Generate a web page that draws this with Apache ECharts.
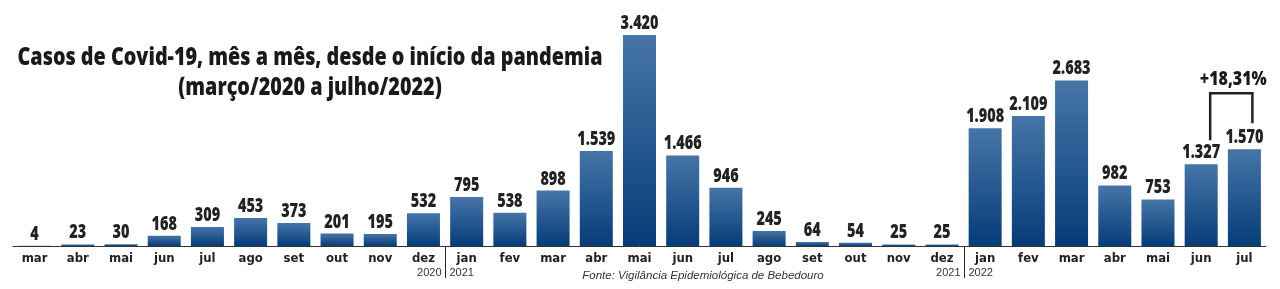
<!DOCTYPE html>
<html><head><meta charset="utf-8">
<script src="https://cdn.jsdelivr.net/npm/echarts@6/dist/echarts.min.js"></script>
<style>html,body{margin:0;padding:0;background:#fff}#c{width:1280px;height:289px}</style>
</head><body><div id="c"></div>
<script>
const months = ['mar','abr','mai','jun','jul','ago','set','out','nov','dez',
  'jan','fev','mar','abr','mai','jun','jul','ago','set','out','nov','dez',
  'jan','fev','mar','abr','mai','jun','jul'];
const cases = [4,23,30,168,309,453,373,201,195,532,
  795,538,898,1539,3420,1466,946,245,64,54,25,25,
  1908,2109,2683,982,753,1327,1570];
const yearBreaks = [{before:10, left:'2020', right:'2021'},{before:22, left:'2021', right:'2022'}];
const titleLines = ['Casos de Covid-19, mês a mês, desde o início da pandemia','(março/2020 a julho/2022)'];
const sourceText = 'Fonte: Vigilância Epidemiológica de Bebedouro';
const changeLabel = '+18,31%';

const BOLD = '"Open Sans","DejaVu Sans",sans-serif';
const COND = '"DejaVu Sans Condensed","DejaVu Sans",sans-serif';
const SANS = '"Liberation Sans","DejaVu Sans",sans-serif';
const fmt = v => v >= 1000 ? Math.floor(v/1000) + '.' + String(v%1000).padStart(3,'0') : String(v);
const cats = months.map((m,i)=>i+'_'+m);

function measure(text, font){const c=document.createElement('canvas').getContext('2d');c.font=font;return c.measureText(text).width;}

const chart = echarts.init(document.getElementById('c'));
chart.setOption({
  animation:false,
  grid:{left:13,right:14,top:35,bottom:43},
  xAxis:{type:'category',data:cats,
    axisLine:{lineStyle:{color:'#333',width:1}},
    axisTick:{show:false},
    axisLabel:{formatter:v=>v.split('_')[1],color:'#222',fontWeight:'bold',fontSize:13,fontFamily:COND,margin:6}},
  yAxis:{type:'value',min:0,max:3420,show:false,splitLine:{show:false}},
  series:[{type:'bar',data:cases,barWidth:33,
    itemStyle:{color:new echarts.graphic.LinearGradient(0,0,0,1,[{offset:0,color:'#4676a8'},{offset:1,color:'#053c78'}])}
  },{type:'custom',data:cases.map((v,i)=>[i,v]),encode:{x:0,y:1},z:10,
    renderItem:(params,api)=>{
      const p = api.coord([api.value(0),api.value(1)]);
      return {type:'text',x:p[0],y:p[1]-2,scaleX:0.76,
        style:{text:fmt(api.value(1)),align:'center',verticalAlign:'bottom',fill:'#222',font:'800 19px '+BOLD}};
    }}]
});

function px(i,v){return chart.convertToPixel({xAxisIndex:0,yAxisIndex:0},[i,v]);}
const g = [];
const axisY = px(0,0)[1];
yearBreaks.forEach(b=>{
  const x = Math.round((px(b.before-1,0)[0]+px(b.before,0)[0])/2)+0.5;
  g.push({type:'line',shape:{x1:x,y1:axisY,x2:x,y2:axisY+32},style:{stroke:'#222',lineWidth:1}});
  g.push({type:'text',x:x-4,y:axisY+27,style:{text:b.left,align:'right',verticalAlign:'middle',fill:'#333',font:'11px '+SANS}});
  g.push({type:'text',x:x+4,y:axisY+27,style:{text:b.right,align:'left',verticalAlign:'middle',fill:'#333',font:'11px '+SANS}});
});
g.push({type:'text',x:703,y:axisY+30,style:{text:sourceText,align:'center',verticalAlign:'middle',fill:'#333',font:'italic 11.5px '+SANS}});
const titleFont = '800 24px '+BOLD;
const tScale = 585/measure(titleLines[0], titleFont);
g.push({type:'text',x:310,y:58,scaleX:tScale,style:{text:titleLines[0],align:'center',verticalAlign:'middle',fill:'#1a1a1a',font:titleFont}});
g.push({type:'text',x:310,y:88,scaleX:tScale,style:{text:titleLines[1],align:'center',verticalAlign:'middle',fill:'#1a1a1a',font:titleFont}});
// bracket between last two bars
const n = cases.length;
const a = px(n-2, cases[n-2]), b = px(n-1, cases[n-1]);
const topY = Math.min(a[1], b[1]) - 56;
const xl = a[0]+9, xr = b[0]+8;
g.push({type:'polyline',shape:{points:[[xl,a[1]-24],[xl,topY],[xr,topY],[xr,b[1]-26]]},style:{stroke:'#222',lineWidth:2.5,fill:null}});
g.push({type:'text',x:(xl+xr)/2+2,y:topY-14,scaleX:0.8,style:{text:changeLabel,align:'center',verticalAlign:'middle',fill:'#1a1a1a',font:'800 20px '+BOLD}});
chart.setOption({graphic:g});
</script></body></html>
